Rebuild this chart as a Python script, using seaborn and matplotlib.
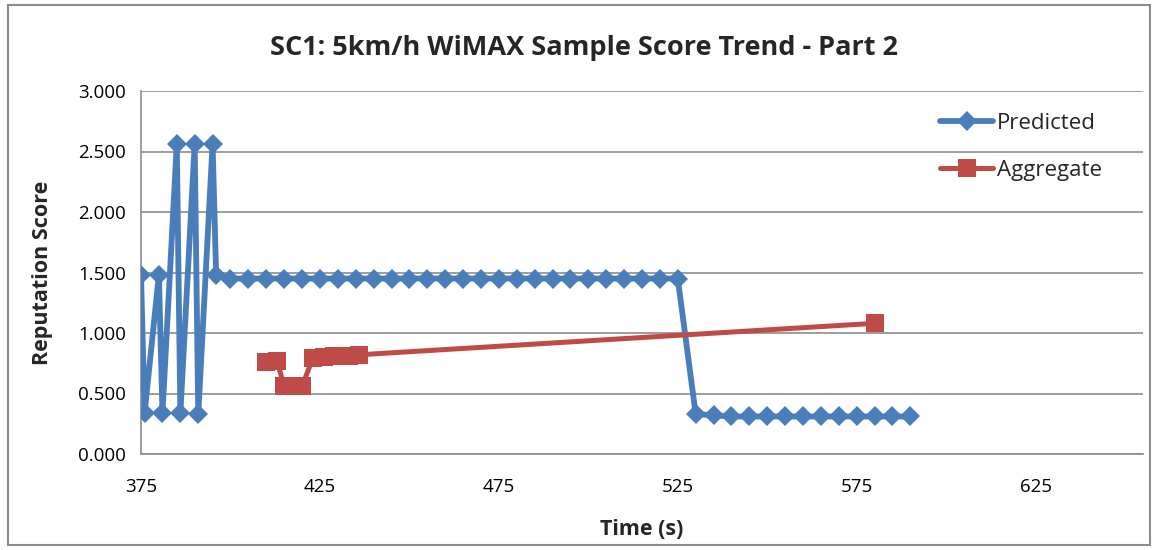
import matplotlib
matplotlib.use("Agg")
import matplotlib.pyplot as plt
import matplotlib.patches as mpatches
import seaborn as sns
import numpy as np

# ---- data ----
pred_time = [375, 376, 380, 381, 385, 386, 390, 391, 395, 396,
             400, 405, 410, 415, 420, 425, 430, 435, 440, 445, 450, 455, 460,
             465, 470, 475, 480, 485, 490, 495, 500, 505, 510, 515, 520, 525,
             530, 535, 540, 545, 550, 555, 560, 565, 570, 575, 580, 585, 590]
pred_score = [1.48, 0.34, 1.48, 0.34, 2.56, 0.34, 2.56, 0.33, 2.56, 1.48,
              1.45, 1.45, 1.45, 1.45, 1.45, 1.45, 1.45, 1.45, 1.45, 1.45, 1.45, 1.45, 1.45,
              1.45, 1.45, 1.45, 1.45, 1.45, 1.45, 1.45, 1.45, 1.45, 1.45, 1.45, 1.45, 1.45,
              0.33, 0.32, 0.31, 0.31, 0.31, 0.31, 0.31, 0.31, 0.31, 0.31, 0.31, 0.31, 0.31]
agg_time = [410, 413, 415, 420, 423, 426, 429, 433, 436, 580]
agg_score = [0.76, 0.77, 0.56, 0.56, 0.79, 0.80, 0.81, 0.81, 0.82, 1.08]

title = "SC1: 5km/h WiMAX Sample Score Trend - Part 2"
xlabel = "Time (s)"
ylabel = "Reputation Score"
xticks = [375, 425, 475, 525, 575, 625]
yticks = [0.0, 0.5, 1.0, 1.5, 2.0, 2.5, 3.0]

BLUE = "#4A7EBB"
RED = "#BE4B48"
GRID = "#8C8C8C"

sns.set_theme(style="white")
plt.rcParams['font.family'] = ['Open Sans', 'DejaVu Sans']

fig = plt.figure(figsize=(11.58, 5.5), dpi=100)
ax = fig.add_axes([141/1158, 1-454/550, (1143-141)/1158, (454-91)/550])

sns.lineplot(x=pred_time, y=pred_score, ax=ax, color=BLUE, linewidth=4.2,
             marker="D", markersize=10, markeredgewidth=0, label="Predicted",
             errorbar=None, sort=False, zorder=3)
sns.lineplot(x=agg_time, y=agg_score, ax=ax, color=RED, linewidth=3.6,
             marker="s", markersize=13, markeredgewidth=0, label="Aggregate",
             errorbar=None, sort=False, zorder=4)

ax.set_xlim(375, 655)
ax.set_ylim(0, 3.0)
ax.set_xticks(xticks)
ax.set_yticks(yticks)
ax.set_yticklabels([f"{v:.3f}" for v in yticks])
ax.tick_params(axis='both', labelsize=13.5, colors="#000000", length=5,
               width=1, color=GRID, direction='out')
ax.tick_params(axis='x', pad=12)
ax.tick_params(axis='y', pad=6)
ax.yaxis.grid(True, color=GRID, linewidth=1.2)
ax.xaxis.grid(False)
for s in ['top', 'right']:
    ax.spines[s].set_visible(False)
for s in ['left', 'bottom']:
    ax.spines[s].set_color(GRID)
    ax.spines[s].set_linewidth(1.2)

ax.set_xlabel(xlabel, fontsize=15.5, fontweight='bold', labelpad=17)
ax.set_ylabel(ylabel, fontsize=15.5, fontweight='bold', labelpad=18)

fig.text(0.504, 0.913, title, ha='center', va='center', fontsize=19.5, fontweight='bold')

leg = ax.legend(loc='upper left', bbox_to_anchor=(790/1002, 0.965), frameon=False,
                fontsize=16, handlelength=2.4, labelspacing=1.2, handletextpad=0.15,
                borderaxespad=0)

fig.patches.append(mpatches.Rectangle((8/1158, 5/550), 1142/1158, 540/550,
                                      transform=fig.transFigure, fill=False,
                                      edgecolor="#8C8C8C", linewidth=1.5))

fig.savefig("out.png", dpi=100)
